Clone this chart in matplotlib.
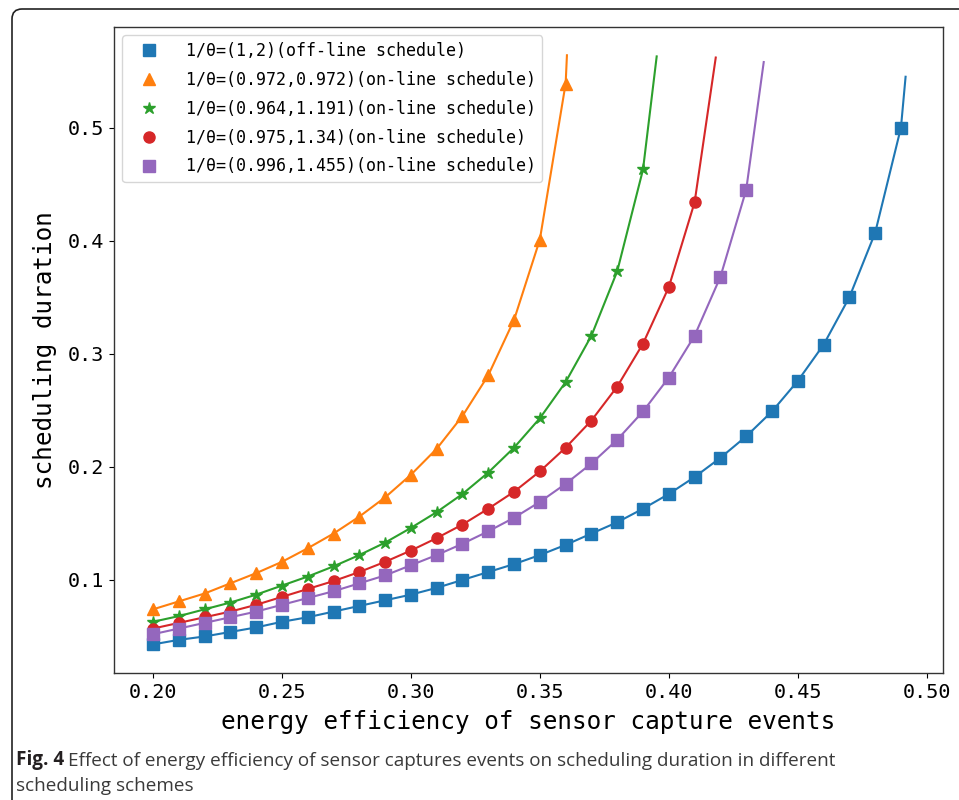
import matplotlib.pyplot as plt
from matplotlib.patches import FancyBboxPatch

# energy efficiency values where the markers sit
x_eff = [0.20, 0.21, 0.22, 0.23, 0.24, 0.25, 0.26, 0.27, 0.28, 0.29,
         0.30, 0.31, 0.32, 0.33, 0.34, 0.35, 0.36, 0.37, 0.38, 0.39,
         0.40, 0.41, 0.42, 0.43, 0.44, 0.45, 0.46, 0.47, 0.48, 0.49]

# scheduling duration
offline_1_2 = [0.043, 0.047, 0.050, 0.054, 0.058, 0.063, 0.067, 0.072, 0.077, 0.082,
               0.087, 0.093, 0.100, 0.107, 0.114, 0.122, 0.131, 0.141, 0.151, 0.163,
               0.176, 0.191, 0.208, 0.227, 0.249, 0.276, 0.308, 0.350, 0.407, 0.500]
online_0972 = [0.074, 0.081, 0.088, 0.097, 0.106, 0.116, 0.128, 0.141, 0.156, 0.173,
               0.193, 0.216, 0.245, 0.281, 0.330, 0.401, 0.539]
online_1191 = [0.063, 0.068, 0.074, 0.080, 0.087, 0.095, 0.103, 0.112, 0.122, 0.133,
               0.146, 0.160, 0.176, 0.195, 0.217, 0.243, 0.275, 0.316, 0.373, 0.463]
online_134 = [0.057, 0.062, 0.067, 0.072, 0.078, 0.085, 0.092, 0.099, 0.107, 0.116,
              0.126, 0.137, 0.149, 0.163, 0.178, 0.196, 0.217, 0.241, 0.271, 0.309,
              0.359, 0.434]
online_1455 = [0.052, 0.057, 0.062, 0.067, 0.072, 0.078, 0.084, 0.090, 0.097, 0.104,
               0.113, 0.122, 0.132, 0.143, 0.155, 0.169, 0.185, 0.203, 0.224, 0.249,
               0.279, 0.316, 0.368, 0.445]

# where each curve stops (past its last marker)
tail_x = [0.4918, 0.3605, 0.3953, 0.4182, 0.4368]
tail_y = [0.545, 0.564, 0.563, 0.562, 0.558]

labels = ['1/θ=(1,2)(off-line schedule)',
          '1/θ=(0.972,0.972)(on-line schedule)',
          '1/θ=(0.964,1.191)(on-line schedule)',
          '1/θ=(0.975,1.34)(on-line schedule)',
          '1/θ=(0.996,1.455)(on-line schedule)']
series = [offline_1_2, online_0972, online_1191, online_134, online_1455]
colors = ['#1f77b4', '#ff7f0e', '#2ca02c', '#d62728', '#9467bd']
markers = ['s', '^', '*', 'o', 's']
msizes = [8, 8.5, 9, 8, 8]

mono = 'DejaVu Sans Mono'

fig = plt.figure(figsize=(9.59, 8), dpi=100)
ax = fig.add_axes([0.1189, 0.15875, 0.8644, 0.8075])

for ys, tx, ty, c, m, ms, lab in zip(series, tail_x, tail_y, colors, markers, msizes, labels):
    xs = x_eff[:len(ys)]
    ax.plot(xs + [tx], ys + [ty], color=c, lw=1.5, zorder=2)
    ax.plot(xs, ys, ls='none', marker=m, ms=ms, color=c, label=lab, zorder=3)

ax.set_xticks([0.20, 0.25, 0.30, 0.35, 0.40, 0.45, 0.50])
ax.set_xticklabels(['0.20', '0.25', '0.30', '0.35', '0.40', '0.45', '0.50'])
ax.set_yticks([0.1, 0.2, 0.3, 0.4, 0.5])
ax.set_yticklabels(['0.1', '0.2', '0.3', '0.4', '0.5'])
ax.set_xlim(0.1849, 0.5063)
ax.set_ylim(0.0177, 0.589)
for lbl in ax.get_xticklabels() + ax.get_yticklabels():
    lbl.set_fontfamily(mono)
    lbl.set_fontsize(14.5)
for sp in ax.spines.values():
    sp.set_color('#333333')
    sp.set_linewidth(1.0)

ax.set_xlabel('energy efficiency of sensor capture events', fontfamily=mono,
              fontsize=17.5, labelpad=6)
ax.set_ylabel('scheduling duration', fontfamily=mono, fontsize=17.5, labelpad=8)

ax.legend(loc='upper left', prop={'family': mono, 'size': 12}, handlelength=2.4,
          handletextpad=1.0, labelspacing=0.65, borderpad=0.4)

# outer rounded frame of the page figure
frame = FancyBboxPatch((0.12, -1.0), 10.0, 8.91, boxstyle='round,pad=0,rounding_size=0.1',
                       transform=fig.dpi_scale_trans, fill=False, ec='#222222', lw=1.2)
fig.add_artist(frame)

cap = 'Open Sans'
t1 = fig.text(16 / 959, 1 - 765 / 800, 'Fig. 4', fontfamily=cap, fontsize=13.6,
              fontweight='bold', color='#231f20', va='baseline')
ax.annotate('Effect of energy efficiency of sensor captures events on scheduling duration in different',
            xy=(1, 0), xycoords=t1, xytext=(3, 0), textcoords='offset points',
            fontfamily=cap, fontsize=13.6, color='#3a3a3a', va='bottom', annotation_clip=False)
fig.text(16 / 959, 1 - 791 / 800, 'scheduling schemes', fontfamily=cap, fontsize=13.6,
         color='#3a3a3a', va='baseline')

fig.savefig('out.png', dpi=100)
